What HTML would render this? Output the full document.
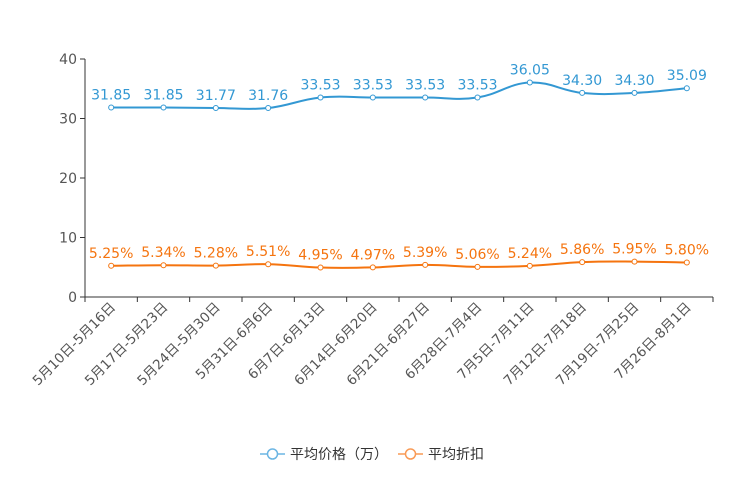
<!DOCTYPE html>
<html><head><meta charset="utf-8"><style>
body{margin:0;background:#fff;width:744px;height:496px;overflow:hidden}
text{font-family:"DejaVu Sans","Noto Sans CJK SC",sans-serif}
</style></head><body>
<svg id="c" width="744" height="496"></svg>
<script>
const categories=["5月10日-5月16日","5月17日-5月23日","5月24日-5月30日","5月31日-6月6日","6月7日-6月13日","6月14日-6月20日","6月21日-6月27日","6月28日-7月4日","7月5日-7月11日","7月12日-7月18日","7月19日-7月25日","7月26日-8月1日"];
const priceValues=[31.85,31.85,31.77,31.76,33.53,33.53,33.53,33.53,36.05,34.30,34.30,35.09];
const discountValues=[5.25,5.34,5.28,5.51,4.95,4.97,5.39,5.06,5.24,5.86,5.95,5.80];
const yTicks=[0,10,20,30,40];
const svg=document.getElementById('c');const NS='http://www.w3.org/2000/svg';
const X0=85,X1=713,Y0=297,Y1=59,YMAX=40;
const bw=(X1-X0)/categories.length;
const x=i=>X0+bw*(i+0.5);
const y=v=>Y0-(v/YMAX)*(Y0-Y1);
function mk(t,a,p){const e=document.createElementNS(NS,t);for(const k in a)e.setAttribute(k,a[k]);(p||svg).appendChild(e);return e;}
let e=mk('line',{x1:X0,y1:Y1,x2:X0,y2:Y0,stroke:'#333'});

e=mk('line',{x1:X0,y1:Y0,x2:X1,y2:Y0,stroke:'#333'});

yTicks.forEach(t=>{mk('line',{x1:X0-5,y1:y(t),x2:X0,y2:y(t),stroke:'#333'});
const l=mk('text',{x:X0-8,y:y(t)+5,'text-anchor':'end','font-size':14,fill:'#555'});l.textContent=t;
});
for(let i=0;i<=categories.length;i++)mk('line',{x1:X0+bw*i,y1:Y0,x2:X0+bw*i,y2:Y0+5,stroke:'#333'});
categories.forEach((c,i)=>{const l=mk('text',{x:0,y:0,'text-anchor':'end','font-size':13.5,fill:'#555',transform:`translate(${x(i)+5},${Y0+11}) rotate(-45)`});l.textContent=c;
});
function path(vals){const p=vals.map((v,i)=>[x(i),y(v)]);let d=`M${p[0][0]},${p[0][1]}`;const t=0.2;
for(let i=0;i<p.length-1;i++){const a=p[Math.max(i-1,0)],b=p[i],c=p[i+1],n=p[Math.min(i+2,p.length-1)];
d+=` C${b[0]+(c[0]-a[0])*t},${b[1]+(c[1]-a[1])*t} ${c[0]-(n[0]-b[0])*t},${c[1]-(n[1]-b[1])*t} ${c[0]},${c[1]}`;}return d;}
function series(vals,col,name,fmt){const g=mk('g',{});
mk('path',{d:path(vals),fill:'none',stroke:col,'stroke-width':2},g);
vals.forEach((v,i)=>{const c=mk('circle',{cx:x(i),cy:y(v),r:2.5,fill:'#fff',stroke:col,'stroke-width':1},g);

const l=mk('text',{x:x(i),y:y(v)-8,'text-anchor':'middle','font-size':14,fill:col},g);l.textContent=fmt(v);
});}
series(priceValues,'#3398d3','price-series',v=>v.toFixed(2));
series(discountValues,'#f5740f','discount-series',v=>v.toFixed(2)+'%');
function leg(x0,col,label,name){const g=mk('g',{});
mk('line',{x1:x0,y1:454,x2:x0+25,y2:454,stroke:col,'stroke-width':1.5},g);
mk('circle',{cx:x0+12.5,cy:454,r:5,fill:'#fff',stroke:col,'stroke-width':1.5},g);
const t=mk('text',{x:x0+30,y:459,'font-size':14,fill:'#333'},g);t.textContent=label;}
leg(260,'#6bb5e3','平均价格（万）','legend-entry-price');
leg(398,'#f99a55','平均折扣','legend-entry-discount');
</script>
</body></html>
